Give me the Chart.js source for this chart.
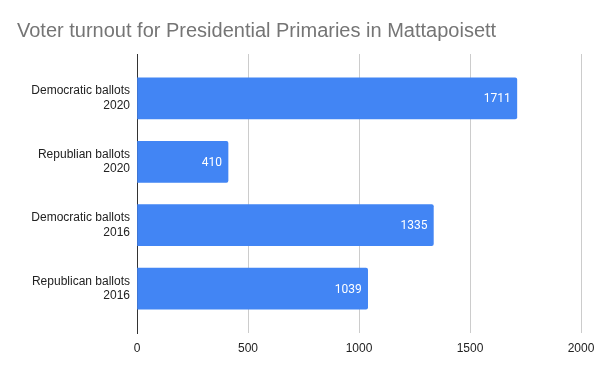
<!DOCTYPE html>
<html>
<head>
<meta charset="utf-8">
<script src="https://cdn.jsdelivr.net/npm/chart.js@4.4.0/dist/chart.umd.min.js"></script>
<style>
    html, body { margin: 0; padding: 0; background: #fff; }
    #wrap { width: 600px; height: 371px; }
</style>
</head>
<body>
<div id="wrap"><canvas id="barChart"></canvas></div>
<script>
// Voter turnout, horizontal bars
const categories = [
    ['Democratic ballots', '2020'],
    ['Republian ballots', '2020'],
    ['Democratic ballots', '2016'],
    ['Republican ballots', '2016']
];
const ballots = [1711, 410, 1335, 1039];
const xTicks = [0, 500, 1000, 1500, 2000];

// white value labels near the end of each bar
const barLabels = {
    id: 'barLabels',
    afterDatasetsDraw(chart) {
        const ctx = chart.ctx;
        const meta = chart.getDatasetMeta(0);
        ctx.save();
        ctx.fillStyle = '#fff';
        ctx.font = '12px Roboto, Arial, sans-serif';
        ctx.textAlign = 'right';
        ctx.textBaseline = 'middle';
        meta.data.forEach((bar, i) => {
            ctx.fillText(String(ballots[i]), bar.x - 6, bar.y + 1);
        });
        ctx.restore();
    }
};

const ctx = document.getElementById('barChart');
new Chart(ctx, {
    type: 'bar',
    data: {
        datasets: [{
            data: ballots.map((v, i) => ({ x: v, y: i })),
            backgroundColor: '#4285f4',
            borderRadius: { topRight: 2, bottomRight: 2 },
            borderSkipped: 'start',
            barThickness: 41
        }]
    },
    options: {
        indexAxis: 'y',
        responsive: true,
        maintainAspectRatio: false,
        animation: false,
        layout: { padding: { left: 17, right: 19, top: 0, bottom: 0 } },
        scales: {
            x: {
                type: 'linear',
                min: 0,
                max: 2000,
                afterBuildTicks: (scale) => { scale.ticks = xTicks.map(v => ({ value: v })); },
                afterFit: (scale) => {
                    scale.height = 38;
                    scale.paddingLeft = 0;
                    scale.paddingRight = 0;
                },
                grid: { color: '#cccccc', drawTicks: false },
                border: { display: false },
                ticks: {
                    padding: 8,
                    color: '#222',
                    font: { family: 'Arial, "Liberation Sans", sans-serif', size: 12 },
                    callback: (v) => String(v)
                }
            },
            y: {
                type: 'linear',
                reverse: true,
                offset: false,
                min: -0.7,
                max: 3.7,
                afterBuildTicks: (scale) => { scale.ticks = categories.map((c, i) => ({ value: i })); },
                afterFit: (scale) => { scale.width = 120; },
                grid: { display: false, drawTicks: false },
                border: { display: true, color: '#333333', width: 1 },
                ticks: {
                    padding: 7,
                    color: '#222',
                    font: { family: 'Arial, "Liberation Sans", sans-serif', size: 12 },
                    callback: (v) => categories[v]
                }
            }
        },
        plugins: {
            legend: { display: false },
            tooltip: { enabled: false },
            title: {
                display: true,
                text: 'Voter turnout for Presidential Primaries in Mattapoisett',
                align: 'start',
                color: '#757575',
                font: { family: 'Arial, "Liberation Sans", sans-serif', size: 20, weight: 'normal' },
                padding: { top: 19, bottom: 11 }
            }
        }
    },
    plugins: [barLabels]
});
</script>
</body>
</html>
